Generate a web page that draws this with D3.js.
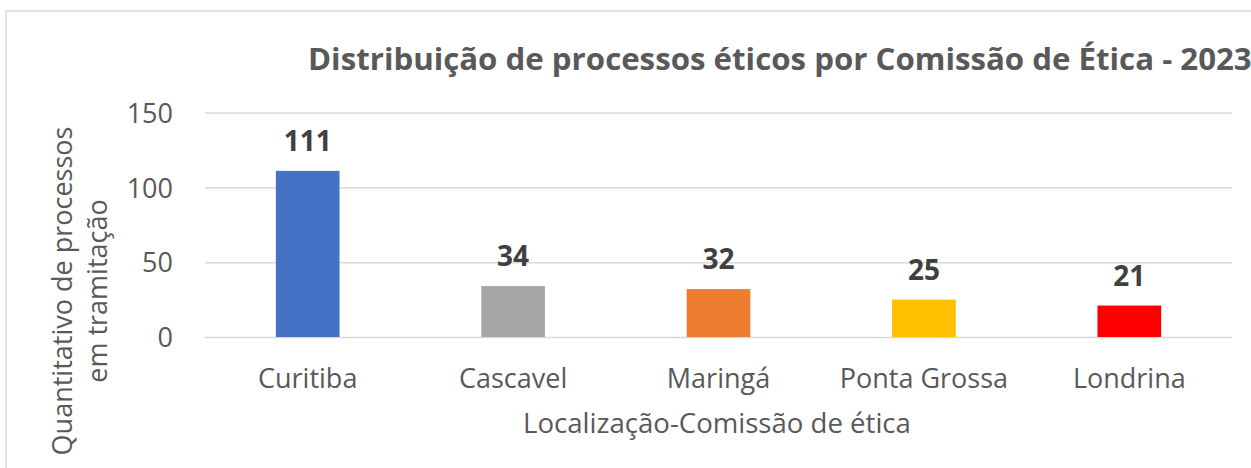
<!DOCTYPE html>
<html><head><meta charset="utf-8">
<script src="https://cdn.jsdelivr.net/npm/d3@7"></script>
<style>body{margin:0;background:#fff}svg{display:block}</style>
</head><body>
<script>
const categories = ["Curitiba", "Cascavel", "Maringá", "Ponta Grossa", "Londrina"];
const values = [111, 34, 32, 25, 21];
const colors = ["#4472C4", "#A5A5A5", "#ED7D31", "#FFC000", "#FF0000"];
const yTicks = [0, 50, 100, 150];
const title = "Distribuição de processos éticos por Comissão de Ética - 2023";
const xTitle = "Localização-Comissão de ética";
const yTitle = ["Quantitativo de processos", "em tramitação"];

const W = 1251, H = 468;
const svg = d3.select("body").append("svg").attr("width", W).attr("height", H);
const font = "'Open Sans', sans-serif";
const grey = "#595959";

svg.append("rect").attr("x", 6).attr("y", 11).attr("width", W + 20).attr("height", H + 20)
  .attr("fill", "#fff").attr("stroke", "#d9d9d9").attr("stroke-width", 1.5);

const x = d3.scaleBand().domain(categories).range([205, 1232]).paddingInner(0.69).paddingOuter(0.345);
const y = d3.scaleLinear().domain([0, 150]).range([337, 112.5]);

function fit(sel, target) {
  let fs = parseFloat(sel.attr("font-size"));
  const w = sel.node().getComputedTextLength();
  sel.attr("font-size", fs * target / w);
}

// gridlines
const yAxis = d3.axisLeft(y).tickValues(yTicks).tickSize(-(1232 - 205)).tickPadding(32);
const gy = svg.append("g").attr("transform", "translate(205,0)").call(yAxis);
gy.select(".domain").remove();
gy.selectAll(".tick line").attr("stroke", "#d9d9d9").attr("stroke-width", 1.5);
gy.selectAll(".tick text").attr("fill", grey).attr("font-family", font).attr("font-size", 27).attr("dy", "0.36em");

// bars
svg.selectAll("rect.bar").data(values).join("rect").attr("class", "bar")
  .attr("x", (d, i) => x(categories[i])).attr("width", x.bandwidth())
  .attr("y", d => y(d)).attr("height", d => y(0) - y(d))
  .attr("fill", (d, i) => colors[i]);

// value labels
svg.selectAll("text.val").data(values).join("text").attr("class", "val")
  .attr("x", (d, i) => x(categories[i]) + x.bandwidth() / 2)
  .attr("y", d => y(d) - 20)
  .attr("text-anchor", "middle").attr("font-family", font).attr("font-weight", "bold")
  .attr("font-size", 28).attr("fill", "#404040").text(d => d);

// x axis labels
const xAxis = d3.axisBottom(x).tickSize(0).tickPadding(0);
const gx = svg.append("g").attr("transform", "translate(0,337)").call(xAxis);
gx.select(".domain").remove();
gx.selectAll(".tick text").attr("fill", grey).attr("font-family", font).attr("font-size", 27)
  .attr("dy", null).attr("y", 51);

// x title
const xt = svg.append("text").attr("x", 717).attr("y", 433).attr("text-anchor", "middle")
  .attr("font-family", font).attr("font-size", 23).attr("fill", grey).text(xTitle);
fit(xt, 388);

// y title
const yt = svg.append("text").attr("transform", "translate(0,291) rotate(-90)")
  .attr("text-anchor", "middle").attr("font-family", font).attr("font-size", 27).attr("fill", grey);
yt.selectAll("tspan").data(yTitle).join("tspan").attr("x", 0).attr("y", (d, i) => i ? 107 : 72).text(d => d);

// title
const tt = svg.append("text").attr("x", 308).attr("y", 70)
  .attr("font-family", font).attr("font-weight", "bold").attr("font-size", 28).attr("fill", grey).text(title);
fit(tt, 944);
</script>
</body></html>
